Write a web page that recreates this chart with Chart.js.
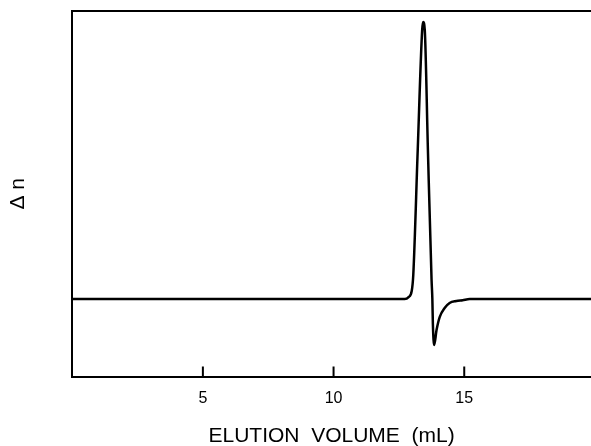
<!DOCTYPE html>
<html>
<head>
<meta charset="utf-8">
<script src="https://cdn.jsdelivr.net/npm/chart.js@4/dist/chart.umd.min.js"></script>
<style>
  html, body { margin: 0; padding: 0; background: #fff; }
  #wrap { width: 591px; height: 446px; }
</style>
</head>
<body>
<div id="wrap"><canvas id="elutionChart"></canvas></div>
<script>
// elution volume (mL) and refractive index change (arbitrary units)
const volume = [0, 12.72, 12.87, 12.99, 13.05, 13.22, 13.39, 13.43, 13.49, 13.61, 13.75, 13.78, 13.80, 13.85, 13.94, 14.06, 14.25, 14.44, 14.70, 14.94, 15.21, 19.85];
const deltaN = [0, 0, 0.007, 0.029, 0.087, 0.538, 0.971, 1.0, 0.971, 0.538, 0.069, 0, -0.09, -0.166, -0.112, -0.065, -0.032, -0.014, -0.007, -0.004, 0, 0];
const xTicks = [5, 10, 15];

const points = volume.map((v, i) => ({ x: v, y: deltaN[i] }));

// frame top line + inward tick marks on the volume axis
const framePlugin = {
  id: 'frame',
  afterDraw(chart) {
    const { ctx, chartArea } = chart;
    const xs = chart.scales.x;
    ctx.save();
    ctx.strokeStyle = '#000';
    ctx.lineWidth = 2;
    ctx.beginPath();
    ctx.moveTo(chartArea.left, chartArea.top);
    ctx.lineTo(chartArea.right, chartArea.top);
    xs.ticks.forEach(t => {
      const px = xs.getPixelForValue(t.value);
      ctx.moveTo(px, chartArea.bottom);
      ctx.lineTo(px, chartArea.bottom - 10);
    });
    ctx.stroke();
    ctx.restore();
  }
};

const ctx = document.getElementById('elutionChart').getContext('2d');
new Chart(ctx, {
  type: 'line',
  data: {
    datasets: [{
      data: points,
      borderColor: '#000',
      borderWidth: 2.5,
      pointRadius: 0,
      fill: false,
      cubicInterpolationMode: 'monotone'
    }]
  },
  options: {
    responsive: true,
    maintainAspectRatio: false,
    animation: false,
    layout: { padding: { top: 11, right: 0, bottom: 0, left: 0 } },
    plugins: {
      legend: { display: false },
      tooltip: { enabled: false }
    },
    scales: {
      x: {
        type: 'linear',
        min: 0,
        max: 19.85,
        afterBuildTicks: (scale) => { scale.ticks = xTicks.map(v => ({ value: v })); },
        grid: { display: false, drawTicks: false },
        border: { display: true, color: '#000', width: 2 },
        ticks: {
          color: '#000',
          padding: 12,
          font: { family: 'Liberation Sans', size: 16 }
        },
        title: {
          display: true,
          text: 'ELUTION  VOLUME  (mL)',
          color: '#000',
          font: { family: 'Liberation Sans', size: 21 },
          padding: { top: 4, bottom: -3 }
        }
      },
      y: {
        type: 'linear',
        min: -0.28,
        max: 1.04,
        grid: { display: false, drawTicks: false },
        border: { display: true, color: '#000', width: 2 },
        ticks: { display: false },
        title: {
          display: true,
          text: 'Δ n',
          color: '#000',
          font: { family: 'Liberation Sans', size: 21 },
          padding: { top: 6, bottom: 41 }
        }
      }
    }
  },
  plugins: [framePlugin]
});
</script>
</body>
</html>
